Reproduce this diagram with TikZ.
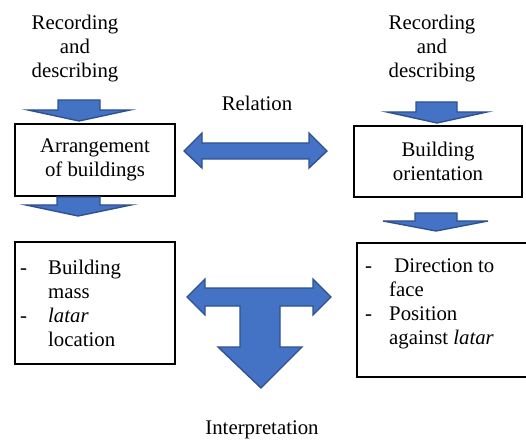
\documentclass[tikz,border=0pt]{standalone}
\usepackage{fontspec}
\setmainfont{Liberation Serif}
\usepackage{tikz}

\definecolor{arrowblue}{HTML}{4472C4}
\definecolor{arrowedge}{HTML}{2F528F}

\begin{document}
\begin{tikzpicture}[x=1bp,y=-1bp,line join=miter]
                  \tikzstyle{every node}=[font=\fontsize{20.8bp}{24bp}\selectfont]
                  \tikzstyle{label text}=[align=center,inner sep=0pt]
                  \tikzstyle{box}=[draw=black,line width=1.6bp,inner sep=0pt,align=center]
                  \tikzstyle{block arrow}=[fill=arrowblue,draw=arrowedge,line width=1.4bp]

                  \useasboundingbox (0,0) rectangle (526,441);

                  % texts at the top
                  \node[label text] (recL) at (75,49)  {Recording\\and\\describing};
                  \node[label text] (recR) at (432,49) {Recording\\and\\describing};
                  \node[label text] (rel)  at (257,103) {Relation};
                  \node[label text] (interp) at (262,430) {Interpretation};

                  % boxes
                  \node[box,minimum width=160bp,minimum height=72bp] (arr) at (95,160) {Arrangement\\of buildings};
                  \node[box,minimum width=168bp,minimum height=71bp] (orient) at (438,161.5) {Building\\orientation};
                  \node[box,minimum width=160bp,minimum height=122bp] (mass) at (95,303) {};
                  \node[box,minimum width=174bp,minimum height=134bp,anchor=north west] (face) at (356,242) {};

                  % lists in the lower boxes
                  \node[inner sep=0pt,anchor=base west] (massList) at (20,274)
                        {\begin{tabular}[t]{@{}p{28bp}@{}l@{}}
                           - & Building\\
                             & mass\\
                           - & \textit{latar}\\
                             & location
                         \end{tabular}};
                  \node[inner sep=0pt,anchor=base west] (faceList) at (365,272)
                        {\begin{tabular}[t]{@{}p{24bp}@{}l@{}}
                           - & \ Direction to\\
                             & face\\
                           - & Position\\
                             & against \textit{latar}
                         \end{tabular}};

                  % block arrows
                  \draw[block arrow] (58,100) -- (100,100) -- (100,110) -- (130,110)
                        -- (79,121) -- (28,110) -- (58,110) -- cycle;
                  \draw[block arrow] (57,197) -- (100,197) -- (100,205) -- (131,205)
                        -- (78,216) -- (26,205) -- (57,205) -- cycle;
                  \draw[block arrow] (416,102) -- (457,102) -- (457,112) -- (487,112)
                        -- (437,123) -- (387,112) -- (416,112) -- cycle;
                  \draw[block arrow] (415,213) -- (457,213) -- (457,221) -- (488,221)
                        -- (436,231) -- (383,221) -- (415,221) -- cycle;

                  % relation
                  \draw[block arrow] (184,151) -- (202,133) -- (202,143) -- (309,143)
                        -- (309,133) -- (327,151) -- (309,168) -- (309,159)
                        -- (202,159) -- (202,168) -- cycle;

                  % interpretation
                  \draw[block arrow] (187,297) -- (205,279) -- (205,288) -- (313,288)
                        -- (313,279) -- (331,297) -- (313,315) -- (313,306)
                        -- (280,306) -- (280,347) -- (302,347) -- (261,388)
                        -- (218,347) -- (240,347) -- (240,306) -- (205,306)
                        -- (205,315) -- cycle;
                \end{tikzpicture}
\end{document}
